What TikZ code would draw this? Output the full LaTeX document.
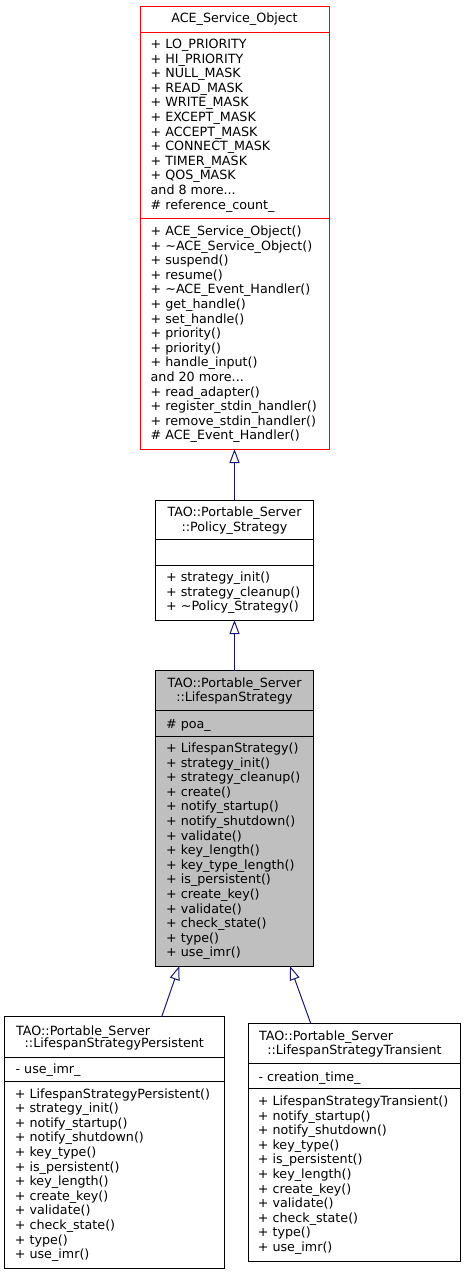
\documentclass[tikz,border=0pt]{standalone}
\usepackage{fontspec}
\setmainfont{DejaVu Sans}
\usetikzlibrary{arrows.meta,calc}
\definecolor{arrowblue}{RGB}{25,25,112}
\definecolor{boxgrey}{RGB}{191,191,191}
\newcommand{\fs}{\fontsize{12.7}{14.6}\selectfont}
\tikzset{
  cls/.style={draw=black, line width=1pt, fill=white, inner sep=0pt, outer sep=0pt, anchor=north west},
  txt/.style={inner sep=0pt, anchor=north west, align=left, font=\fs},
  ttl/.style={inner sep=0pt, anchor=base, font=\fs},
  ttlw/.style={inner sep=0pt, anchor=base west, font=\fs},
  sepline/.style={draw=black, line width=1pt},
  inh/.style={draw=arrowblue, line width=1pt, -{Triangle[open, length=14pt, width=10pt]}},
}
\begin{document}
\begin{tikzpicture}[x=1pt,y=-1pt]
\useasboundingbox (0,0) rectangle (465,1275);

% ---------------- ACE_Service_Object
\node[cls, draw=red, minimum width=189pt, minimum height=443pt] (ace) at (140,6) {};
\draw[sepline, draw=red] (ace.west |- 0,32) -- (ace.east |- 0,32);
\draw[sepline, draw=red] (ace.west |- 0,218.7) -- (ace.east |- 0,218.7);
\node[ttl] (aceT) at (234.5,22.8) {ACE\_Service\_Object};
\node[txt] (aceA) at (150.5,38.0) {\strut + LO\_PRIORITY\\+ HI\_PRIORITY\\+ NULL\_MASK\\+ READ\_MASK\\+ WRITE\_MASK\\+ EXCEPT\_MASK\\+ ACCEPT\_MASK\\+ CONNECT\_MASK\\+ TIMER\_MASK\\+ QOS\_MASK\\and 8 more...\\\# reference\_count\_};
\node[txt] (aceM) at (150.5,225.0) {\strut + ACE\_Service\_Object()\\+ \textasciitilde ACE\_Service\_Object()\\+ suspend()\\+ resume()\\+ \textasciitilde ACE\_Event\_Handler()\\+ get\_handle()\\+ set\_handle()\\+ priority()\\+ priority()\\+ handle\_input()\\and 20 more...\\+ read\_adapter()\\+ register\_stdin\_handler()\\+ remove\_stdin\_handler()\\\# ACE\_Event\_Handler()};

% ---------------- Policy_Strategy
\node[cls, minimum width=157.6pt, minimum height=120pt] (pol) at (155.7,500) {};
\draw[sepline] (pol.west |- 0,539.3) -- (pol.east |- 0,539.3);
\draw[sepline] (pol.west |- 0,565.3) -- (pol.east |- 0,565.3);
\node[ttl] (polT1) at (234.5,516) {TAO::Portable\_Server};
\node[ttl] (polT2) at (234.5,531) {::Policy\_Strategy};
\node[txt] (polM) at (166,571.0) {\strut + strategy\_init()\\+ strategy\_cleanup()\\+ \textasciitilde Policy\_Strategy()};

% ---------------- LifespanStrategy
\node[cls, fill=boxgrey, minimum width=157.6pt, minimum height=295.3pt] (life) at (155.7,670.7) {};
\draw[sepline] (life.west |- 0,710.7) -- (life.east |- 0,710.7);
\draw[sepline] (life.west |- 0,736) -- (life.east |- 0,736);
\node[ttl] (lifeT1) at (234.5,687.3) {TAO::Portable\_Server};
\node[ttl] (lifeT2) at (234.5,701.3) {::LifespanStrategy};
\node[txt] (lifeA) at (166,717.6) {\strut \# poa\_};
\node[txt] (lifeM) at (166,742.0) {\strut + LifespanStrategy()\\+ strategy\_init()\\+ strategy\_cleanup()\\+ create()\\+ notify\_startup()\\+ notify\_shutdown()\\+ validate()\\+ key\_length()\\+ key\_type\_length()\\+ is\_persistent()\\+ create\_key()\\+ validate()\\+ check\_state()\\+ type()\\+ use\_imr()};

% ---------------- LifespanStrategyPersistent
\node[cls, minimum width=219.3pt, minimum height=251.6pt] (pers) at (4.7,1016.7) {};
\draw[sepline] (pers.west |- 0,1057) -- (pers.east |- 0,1057);
\draw[sepline] (pers.west |- 0,1081.5) -- (pers.east |- 0,1081.5);
\node[ttlw] (persT1) at (16,1035) {TAO::Portable\_Server};
\node[ttl] (persT2) at (114.3,1047.5) {::LifespanStrategyPersistent};
\node[txt] (persA) at (15.4,1063.1) {\strut - use\_imr\_};
\node[txt] (persM) at (14.7,1087.6) {\strut + LifespanStrategyPersistent()\\+ strategy\_init()\\+ notify\_startup()\\+ notify\_shutdown()\\+ key\_type()\\+ is\_persistent()\\+ key\_length()\\+ create\_key()\\+ validate()\\+ check\_state()\\+ type()\\+ use\_imr()};

% ---------------- LifespanStrategyTransient
\node[cls, minimum width=212.4pt, minimum height=238.4pt] (trans) at (248.3,1023.3) {};
\draw[sepline] (trans.west |- 0,1063.3) -- (trans.east |- 0,1063.3);
\draw[sepline] (trans.west |- 0,1088.3) -- (trans.east |- 0,1088.3);
\node[ttlw] (transT1) at (259,1040.5) {TAO::Portable\_Server};
\node[ttl] (transT2) at (354.5,1054.5) {::LifespanStrategyTransient};
\node[txt] (transA) at (258.4,1071.0) {\strut - creation\_time\_};
\node[txt] (transM) at (257.7,1095.0) {\strut + LifespanStrategyTransient()\\+ notify\_startup()\\+ notify\_shutdown()\\+ key\_type()\\+ is\_persistent()\\+ key\_length()\\+ create\_key()\\+ validate()\\+ check\_state()\\+ type()\\+ use\_imr()};

% ---------------- inheritance connectors
\draw[inh] (pol.north) -- (ace.south);
\draw[inh] (life.north) -- (pol.south);
\coordinate (lifeL) at ($(life.south west)+(23.6,0)$);
\coordinate (lifeR) at ($(life.south west)+(134.3,0)$);
\coordinate (persTop) at ($(pers.north west)+(157,0)$);
\coordinate (transTop) at ($(trans.north west)+(62.4,0)$);
\draw[inh] (persTop) -- (lifeL);
\draw[inh] (transTop) -- (lifeR);
\end{tikzpicture}
\end{document}
